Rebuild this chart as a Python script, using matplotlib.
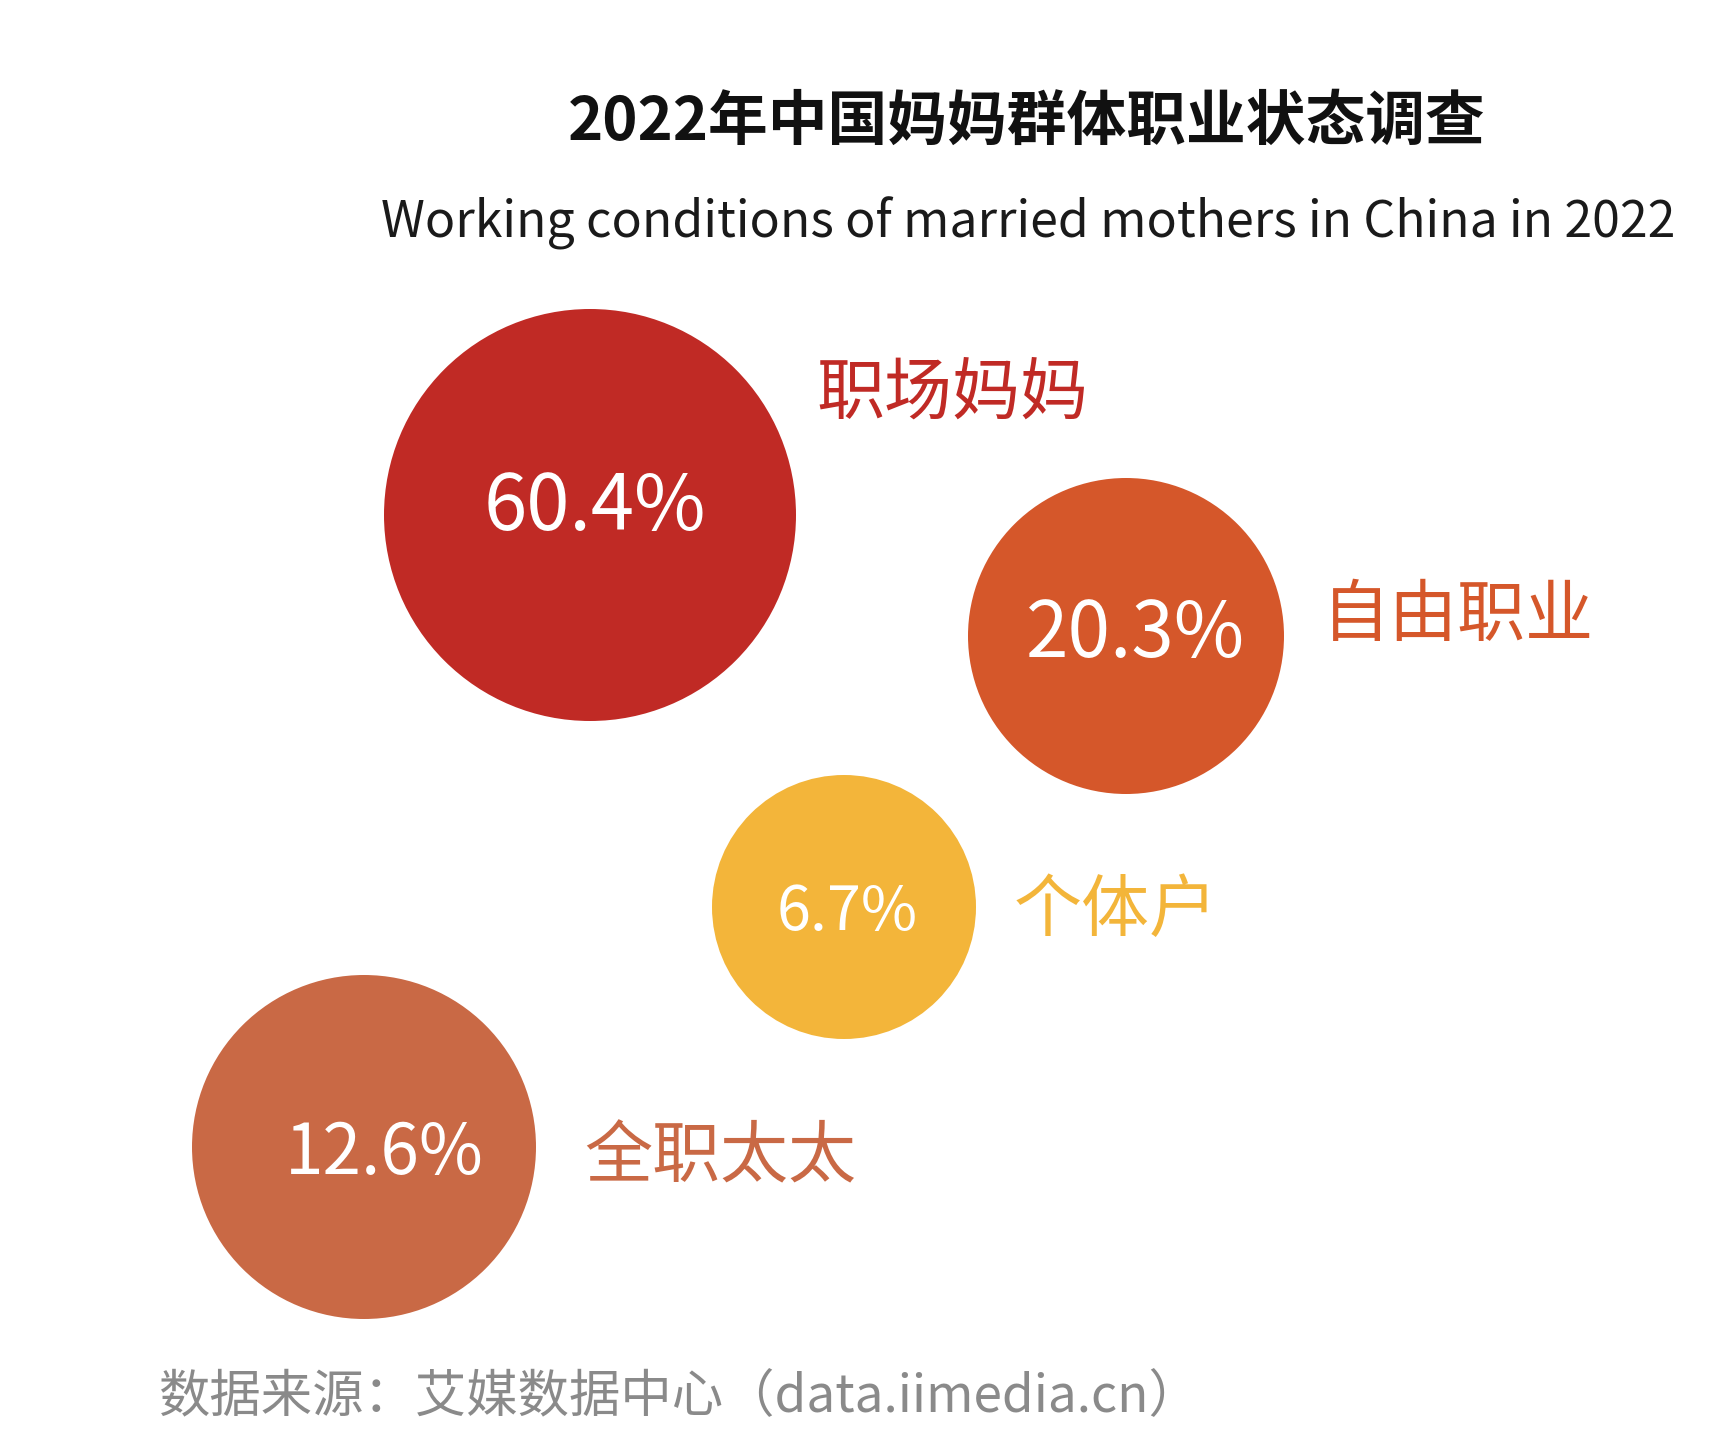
import matplotlib
matplotlib.use("Agg")
import matplotlib.pyplot as plt
from matplotlib.patches import Circle

plt.rcParams['font.family'] = ['Noto Sans CJK SC', 'DejaVu Sans']

# Datos
categorias = ["职场妈妈", "自由职业", "个体户", "全职太太"]
porcentajes = [60.4, 20.3, 6.7, 12.6]
colores = ["#C02A25", "#D5572A", "#F3B53A", "#C96945"]

# Disposición de las burbujas (en píxeles del lienzo)
pos_x = [590, 1126, 844, 364]
pos_y = [515, 636, 907, 1147]
radios = [206, 158, 132, 172]
# posición de los porcentajes y de las etiquetas
pct_x = [595, 1136, 847, 384]
pct_y = [508, 635, 913, 1154]
tam_pct = [56, 55, 44, 50]
etq_x = [816, 1322, 1014, 584]
etq_y = [395, 617, 912, 1158]

fig = plt.figure(figsize=(17.29, 14.31), dpi=100)
ax = fig.add_axes([0, 0, 1, 1])
ax.set_xlim(0, 1729)
ax.set_ylim(1431, 0)
ax.set_aspect("equal")
ax.axis("off")

for i in range(len(categorias)):
    ax.add_patch(Circle((pos_x[i], pos_y[i]), radios[i], color=colores[i], lw=0))
    ax.text(pct_x[i], pct_y[i], f"{porcentajes[i]}%", color="white",
            fontsize=tam_pct[i], ha="center", va="center")
    ax.text(etq_x[i], etq_y[i], categorias[i], color=colores[i], fontsize=49,
            ha="left", va="center")

# Títulos
ax.text(1027, 123, "2022年中国妈妈群体职业状态调查", fontsize=43,
        fontweight="bold", ha="center", va="center", color="#111111")
ax.text(1028, 223, "Working conditions of married mothers in China in 2022",
        fontsize=36, ha="center", va="center", color="#1a1a1a")

# Fuente
ax.text(158, 1397, "数据来源：艾媒数据中心（data.iimedia.cn）", fontsize=37,
        ha="left", va="center", color="#8a8a8a")

fig.savefig("out.png", dpi=100)
